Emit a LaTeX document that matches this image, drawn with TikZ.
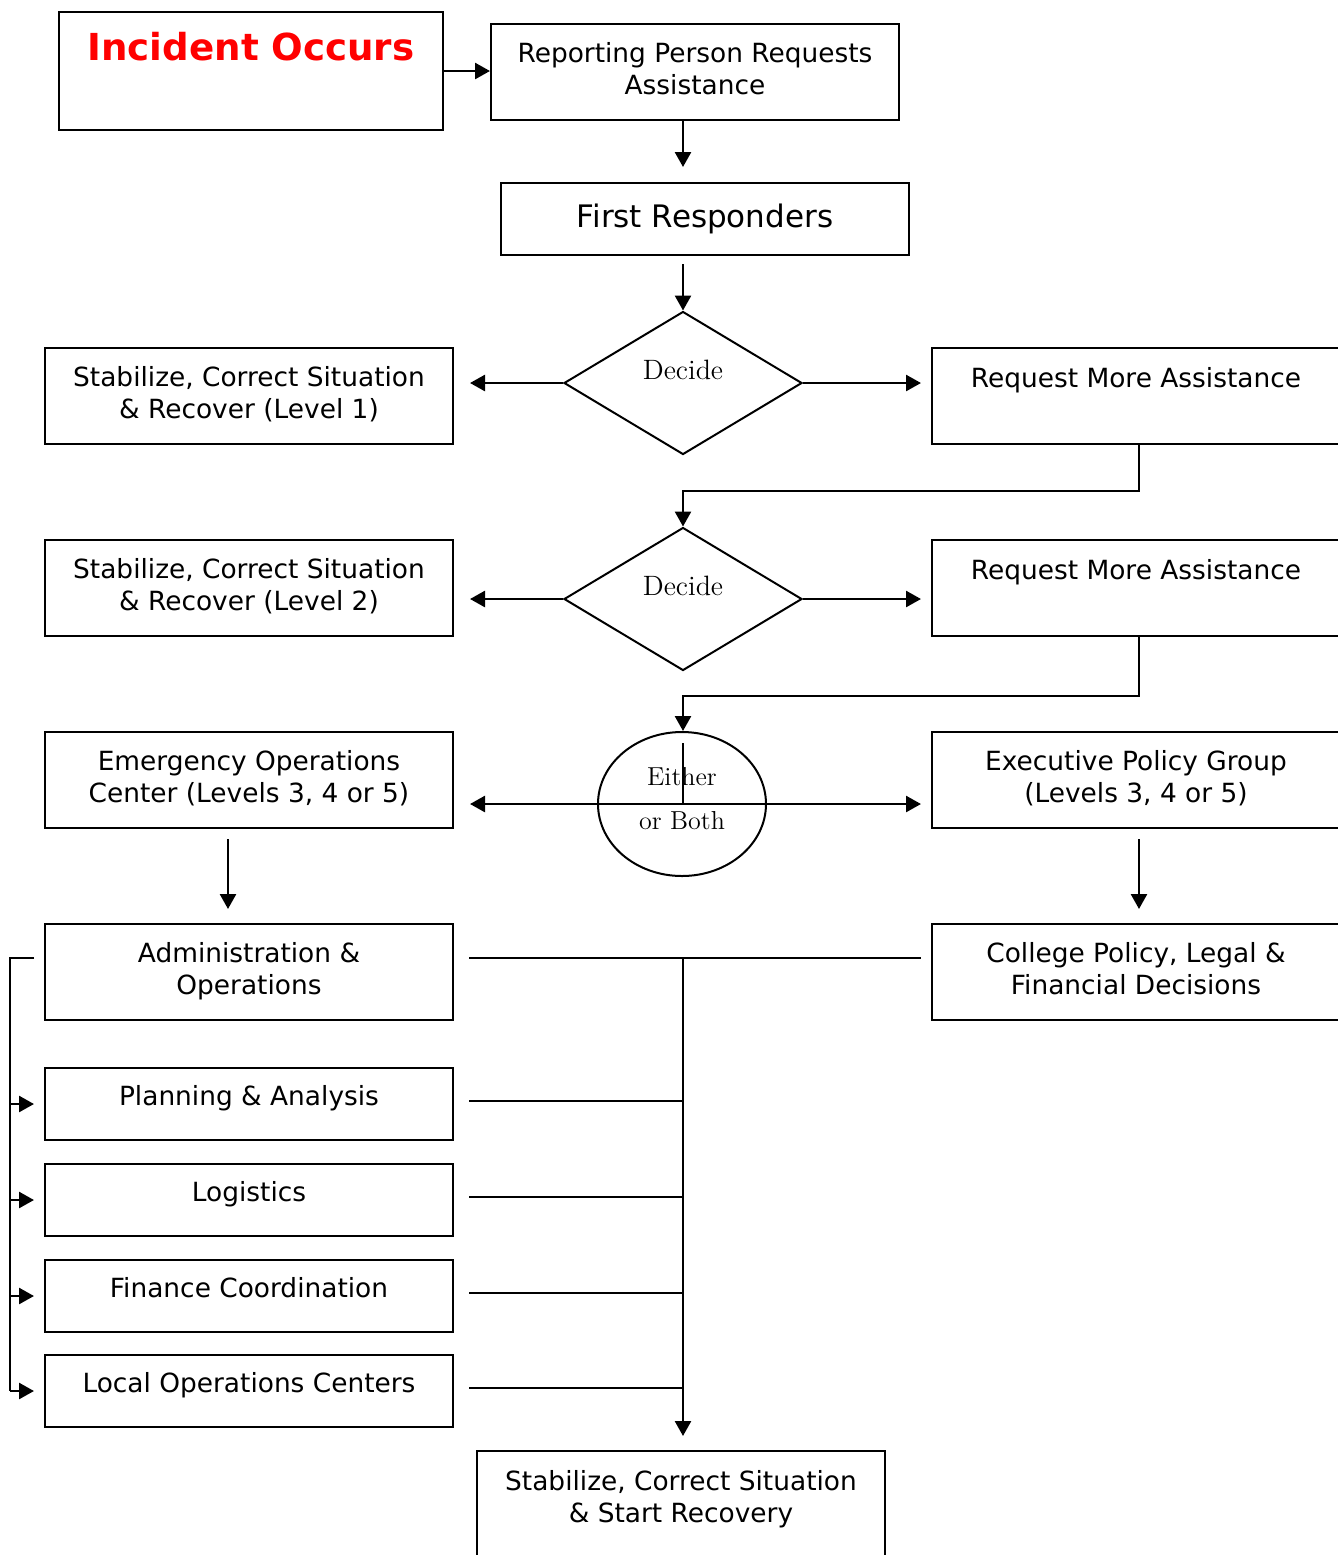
\documentclass[tikz,border=0pt]{standalone}
\usepackage{fontspec}
\usepackage{tikz}
\usetikzlibrary{shapes.geometric, arrows.meta}
\newfontfamily\boxfamily{DejaVu Sans}
\newcommand{\boxfont}{\boxfamily\fontsize{13.2}{16}\selectfont}
\tikzstyle{box} = [draw, line width=1pt, minimum width=204pt, minimum height=48pt, inner sep=0pt, align=center, font=\boxfont, text depth=3.5pt]
\tikzstyle{smallbox} = [box, minimum height=36pt, text depth=9pt]
\tikzstyle{decide} = [draw, diamond, line width=1pt, minimum width=119pt, minimum height=71.5pt, inner sep=0pt, font=\fontsize{14}{16}\selectfont, text depth=13pt]
\tikzstyle{arrow} = [line width=1.3pt, -{Triangle[length=7.5pt,width=8pt]}]
\tikzstyle{wire} = [line width=1pt]

\begin{document}
\begin{tikzpicture}[x=0.5pt, y=-0.5pt]
	\useasboundingbox (0,0) rectangle (1338,1555);
	\clip (0,0) rectangle (1338,1555);
	% top
	\node[box, minimum width=192pt, minimum height=59pt, text depth=25pt, text=red, font=\boxfamily\bfseries\fontsize{18.6}{22}\selectfont] (incident) at (251,71) {Incident Occurs};
	\node[box] (report) at (695,72) {Reporting Person Requests\\Assistance};
	\node[box, minimum height=36pt, font=\boxfamily\fontsize{15.5}{18}\selectfont] (first) at (705,219) {First Responders};
	% level 1 and 2
	\node[decide] (decide1) at (683,383) {Decide};
	\node[box] (level1) at (249,396) {Stabilize, Correct Situation\\\& Recover (Level 1)};
	\node[box, text depth=19pt] (more1) at (1136,396) {Request More Assistance};
	\node[decide] (decide2) at (683,599) {Decide};
	\node[box] (level2) at (249,588) {Stabilize, Correct Situation\\\& Recover (Level 2)};
	\node[box, text depth=19pt] (more2) at (1136,588) {Request More Assistance};
	% levels 3, 4, 5
	\node[draw, ellipse, line width=1pt, minimum width=84pt, minimum height=72pt, inner sep=0pt, align=center, font=\fontsize{13}{15}\selectfont, text depth=6pt] (either) at (682,804) {Either\\[7pt]or Both};
	\node[box] (eoc) at (249,780) {Emergency Operations\\Center (Levels 3, 4 or 5)};
	\node[box] (policy) at (1136,780) {Executive Policy Group\\(Levels 3, 4 or 5)};
	\node[box] (admin) at (249,972) {Administration \&\\Operations};
	\node[box] (college) at (1136,972) {College Policy, Legal \&\\Financial Decisions};
	\node[smallbox] (plan) at (249,1104) {Planning \& Analysis};
	\node[smallbox] (logistics) at (249,1200) {Logistics};
	\node[smallbox] (finance) at (249,1296) {Finance Coordination};
	\node[smallbox] (local) at (249,1391) {Local Operations Centers};
	\node[box, minimum height=65pt, text depth=20pt] (recovery) at (681,1516) {Stabilize, Correct Situation\\\& Start Recovery};

	% connectors
	\draw[arrow] (incident.east) -- (incident.east -| report.west);
	\draw[arrow, shorten >=7.5pt] (report.south -| decide1) -- (first.north -| decide1);
	\draw[arrow, shorten <=4pt] (first.south -| decide1) -- (decide1.north);
	\draw[arrow, shorten >=8pt] (decide1.west) -- (decide1.west -| level1.east);
	\draw[arrow, shorten >=5pt] (decide1.east) -- (decide1.east -| more1.west);
	\draw[arrow] ([xshift=1.5pt]more1.south) -- ++(0,46) -| (decide2.north);
	\draw[arrow, shorten >=8pt] (decide2.west) -- (decide2.west -| level2.east);
	\draw[arrow, shorten >=5pt] (decide2.east) -- (decide2.east -| more2.west);
	\draw[arrow] ([xshift=1.5pt]more2.south) -- ++(0,59) -| (either.north -| decide2);
	\draw[wire] ([yshift=-6pt]either.north -| decide2) -- (either.center -| decide2);
	\draw[arrow, shorten >=8pt] (either.center) -- (either.center -| eoc.east);
	\draw[arrow, shorten >=5pt] (either.center) -- (either.center -| policy.west);
	\draw[arrow, shorten <=5pt, shorten >=7pt] ([xshift=-10.5pt]eoc.south) -- ([xshift=-10.5pt]admin.north);
	\draw[arrow, shorten <=5pt, shorten >=7pt] ([xshift=1.5pt]policy.south) -- ([xshift=1.5pt]college.north);
	% joining lines
	\draw[wire, shorten <=7.5pt, shorten >=5pt] ([yshift=7pt]admin.east) -- ([yshift=7pt]admin.east -| college.west);
	\draw[arrow, shorten >=7pt] ([yshift=7pt]admin.east -| decide2) -- (recovery.north -| decide2);
	\foreach \n in {plan,logistics,finance,local}
		\draw[wire, shorten <=7.5pt] ([yshift=1.5pt]\n.east) -- ([yshift=1.5pt]\n.east -| decide2);
	\draw[wire] ([xshift=-5pt,yshift=7pt]admin.west) -| ([xshift=-17pt]local.west);
	\foreach \n in {plan,logistics,finance,local}
		\draw[arrow, shorten >=5pt] ([xshift=-17pt]\n.west) -- (\n.west);
\end{tikzpicture}
\end{document}
